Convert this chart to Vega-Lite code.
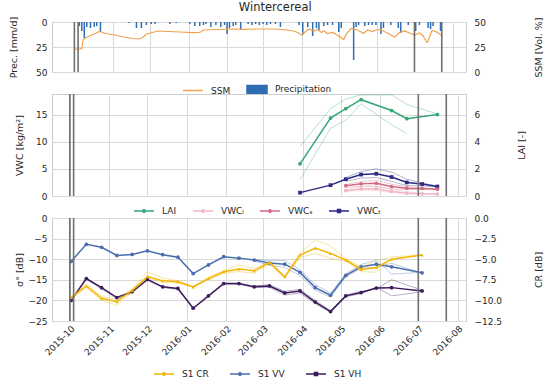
{
  "$schema": "https://vega.github.io/schema/vega-lite/v6.json",
  "padding": {"left": 7, "right": 2, "top": 2, "bottom": 2},
  "bounds": "flush",
  "title": {"text": "Wintercereal", "fontSize": 11.5, "fontWeight": "normal", "font": "DejaVu Sans", "color": "#262626", "anchor": "middle", "frame": "bounds", "offset": 2},
  "config": {
    "font": "DejaVu Sans",
    "view": {"stroke": "#cccccc", "strokeWidth": 1},
    "axis": {"labelFont": "DejaVu Sans", "titleFont": "DejaVu Sans", "labelFontSize": 9, "titleFontSize": 9.5, "labelColor": "#262626", "titleColor": "#262626", "titleFontWeight": "normal", "gridColor": "#d9d9d9", "gridWidth": 1, "domain": false, "ticks": false, "tickSize": 0, "labelPadding": 5, "titlePadding": 6},
    "legend": {"labelFont": "DejaVu Sans", "labelFontSize": 9, "labelColor": "#262626", "orient": "bottom", "direction": "horizontal", "symbolSize": 144, "symbolStrokeWidth": 1.5, "columnPadding": 12, "labelOffset": 11, "offset": 4, "padding": 0, "layout": {"bottom": {"anchor": "middle"}}}
  },
  "spacing": 22,
  "resolve": {"scale": {"x": "independent", "y": "independent", "color": "independent", "stroke": "independent", "fill": "independent"}, "legend": {"color": "independent", "stroke": "independent", "fill": "independent"}},
  "datasets": {
    "events": [{"date": "2015-10-01"}, {"date": "2015-10-04"}, {"date": "2016-07-01"}, {"date": "2016-07-23"}],
    "prec": [
      {"date": "2015-10-05", "prec": 4}, {"date": "2015-10-07", "prec": 9}, {"date": "2015-10-09", "prec": 16}, {"date": "2015-10-11", "prec": 5},
      {"date": "2015-10-14", "prec": 6}, {"date": "2015-10-17", "prec": 5}, {"date": "2015-10-19", "prec": 4}, {"date": "2015-10-22", "prec": 10},
      {"date": "2015-11-14", "prec": 1}, {"date": "2015-11-20", "prec": 6}, {"date": "2015-11-24", "prec": 6}, {"date": "2015-11-28", "prec": 3},
      {"date": "2015-12-02", "prec": 2}, {"date": "2015-12-05", "prec": 2}, {"date": "2015-12-17", "prec": 2}, {"date": "2015-12-22", "prec": 1},
      {"date": "2016-01-02", "prec": 2}, {"date": "2016-01-06", "prec": 4}, {"date": "2016-01-10", "prec": 4}, {"date": "2016-01-13", "prec": 3},
      {"date": "2016-01-15", "prec": 2}, {"date": "2016-01-19", "prec": 5}, {"date": "2016-01-23", "prec": 3}, {"date": "2016-01-27", "prec": 5},
      {"date": "2016-01-30", "prec": 3}, {"date": "2016-02-01", "prec": 12}, {"date": "2016-02-03", "prec": 6}, {"date": "2016-02-06", "prec": 4},
      {"date": "2016-02-08", "prec": 3}, {"date": "2016-02-12", "prec": 8}, {"date": "2016-02-18", "prec": 2}, {"date": "2016-02-21", "prec": 3},
      {"date": "2016-02-24", "prec": 2}, {"date": "2016-02-27", "prec": 3}, {"date": "2016-03-01", "prec": 2}, {"date": "2016-03-04", "prec": 3},
      {"date": "2016-03-07", "prec": 2}, {"date": "2016-03-11", "prec": 2}, {"date": "2016-03-15", "prec": 5}, {"date": "2016-03-30", "prec": 3},
      {"date": "2016-04-02", "prec": 13}, {"date": "2016-04-06", "prec": 5}, {"date": "2016-04-10", "prec": 14}, {"date": "2016-04-13", "prec": 6},
      {"date": "2016-04-15", "prec": 8}, {"date": "2016-04-19", "prec": 4}, {"date": "2016-04-22", "prec": 3}, {"date": "2016-04-26", "prec": 3},
      {"date": "2016-05-01", "prec": 10}, {"date": "2016-05-03", "prec": 6}, {"date": "2016-05-13", "prec": 38}, {"date": "2016-05-15", "prec": 5},
      {"date": "2016-05-17", "prec": 3}, {"date": "2016-05-22", "prec": 4}, {"date": "2016-05-25", "prec": 3}, {"date": "2016-05-28", "prec": 3},
      {"date": "2016-05-31", "prec": 3}, {"date": "2016-06-04", "prec": 12}, {"date": "2016-06-06", "prec": 6}, {"date": "2016-06-12", "prec": 3},
      {"date": "2016-06-18", "prec": 6}, {"date": "2016-06-20", "prec": 11}, {"date": "2016-06-26", "prec": 3}, {"date": "2016-07-02", "prec": 9},
      {"date": "2016-07-05", "prec": 3}, {"date": "2016-07-12", "prec": 6}, {"date": "2016-07-14", "prec": 7}, {"date": "2016-07-16", "prec": 4},
      {"date": "2016-07-22", "prec": 9}
    ],
    "ssm": [
      {"date": "2015-10-01", "ssm": 23.3}, {"date": "2015-10-04", "ssm": 22.5}, {"date": "2015-10-07", "ssm": 23.5}, {"date": "2015-10-08", "ssm": 32},
      {"date": "2015-10-10", "ssm": 34}, {"date": "2015-10-14", "ssm": 36.5}, {"date": "2015-10-18", "ssm": 38.5}, {"date": "2015-10-21", "ssm": 40.5},
      {"date": "2015-10-25", "ssm": 39}, {"date": "2015-11-02", "ssm": 37}, {"date": "2015-11-10", "ssm": 35}, {"date": "2015-11-17", "ssm": 33.5},
      {"date": "2015-11-22", "ssm": 33}, {"date": "2015-11-25", "ssm": 34.5}, {"date": "2015-11-28", "ssm": 38}, {"date": "2015-12-03", "ssm": 39.5},
      {"date": "2015-12-07", "ssm": 41}, {"date": "2015-12-15", "ssm": 40.5}, {"date": "2015-12-25", "ssm": 40}, {"date": "2016-01-04", "ssm": 39.3},
      {"date": "2016-01-10", "ssm": 39.5}, {"date": "2016-01-13", "ssm": 42}, {"date": "2016-01-25", "ssm": 42.5}, {"date": "2016-02-05", "ssm": 43},
      {"date": "2016-02-15", "ssm": 42.7}, {"date": "2016-02-25", "ssm": 43}, {"date": "2016-03-08", "ssm": 43}, {"date": "2016-03-16", "ssm": 42.5},
      {"date": "2016-03-24", "ssm": 41.5}, {"date": "2016-03-29", "ssm": 39.5}, {"date": "2016-04-01", "ssm": 37}, {"date": "2016-04-04", "ssm": 40},
      {"date": "2016-04-07", "ssm": 43}, {"date": "2016-04-11", "ssm": 41}, {"date": "2016-04-14", "ssm": 42.5}, {"date": "2016-04-17", "ssm": 39.5},
      {"date": "2016-04-19", "ssm": 41}, {"date": "2016-04-22", "ssm": 38.5}, {"date": "2016-04-26", "ssm": 39.5}, {"date": "2016-05-01", "ssm": 36},
      {"date": "2016-05-05", "ssm": 32.5}, {"date": "2016-05-07", "ssm": 38}, {"date": "2016-05-11", "ssm": 43.5}, {"date": "2016-05-15", "ssm": 42.5},
      {"date": "2016-05-19", "ssm": 40}, {"date": "2016-05-21", "ssm": 38.5}, {"date": "2016-05-24", "ssm": 42}, {"date": "2016-05-28", "ssm": 40.5},
      {"date": "2016-06-01", "ssm": 42.5}, {"date": "2016-06-05", "ssm": 41.5}, {"date": "2016-06-10", "ssm": 38.5}, {"date": "2016-06-15", "ssm": 35},
      {"date": "2016-06-19", "ssm": 39.5}, {"date": "2016-06-23", "ssm": 41}, {"date": "2016-06-27", "ssm": 39}, {"date": "2016-07-01", "ssm": 37},
      {"date": "2016-07-05", "ssm": 39}, {"date": "2016-07-08", "ssm": 36}, {"date": "2016-07-11", "ssm": 29.5}, {"date": "2016-07-12", "ssm": 31},
      {"date": "2016-07-15", "ssm": 41.5}, {"date": "2016-07-19", "ssm": 40}, {"date": "2016-07-23", "ssm": 36.5}
    ],
    "lai": [
      {"date": "2016-03-30", "series": "LAI", "kind": "mean", "value": 2.37}, {"date": "2016-04-23", "series": "LAI", "kind": "mean", "value": 5.75},
      {"date": "2016-05-05", "series": "LAI", "kind": "mean", "value": 6.44}, {"date": "2016-05-17", "series": "LAI", "kind": "mean", "value": 7.1},
      {"date": "2016-06-10", "series": "LAI", "kind": "mean", "value": 6.3}, {"date": "2016-06-22", "series": "LAI", "kind": "mean", "value": 5.7},
      {"date": "2016-07-16", "series": "LAI", "kind": "mean", "value": 6.0},
      {"date": "2016-03-30", "series": "LAI", "kind": "upper", "value": 3.65}, {"date": "2016-04-23", "series": "LAI", "kind": "upper", "value": 6.45},
      {"date": "2016-05-05", "series": "LAI", "kind": "upper", "value": 7.15}, {"date": "2016-05-17", "series": "LAI", "kind": "upper", "value": 7.45},
      {"date": "2016-06-10", "series": "LAI", "kind": "upper", "value": 7.45}, {"date": "2016-06-22", "series": "LAI", "kind": "upper", "value": 6.75},
      {"date": "2016-07-16", "series": "LAI", "kind": "upper", "value": 6.05},
      {"date": "2016-03-30", "series": "LAI", "kind": "lower", "value": 1.2}, {"date": "2016-04-23", "series": "LAI", "kind": "lower", "value": 5.0},
      {"date": "2016-05-05", "series": "LAI", "kind": "lower", "value": 5.6}, {"date": "2016-05-17", "series": "LAI", "kind": "lower", "value": 6.8},
      {"date": "2016-06-10", "series": "LAI", "kind": "lower", "value": 5.25}, {"date": "2016-06-22", "series": "LAI", "kind": "lower", "value": 4.6}
    ],
    "vwc": [
      {"date": "2016-03-30", "series": "VWCₜ", "kind": "mean", "value": 0.62}, {"date": "2016-04-23", "series": "VWCₜ", "kind": "mean", "value": 2.0},
      {"date": "2016-05-05", "series": "VWCₜ", "kind": "mean", "value": 3.1}, {"date": "2016-05-17", "series": "VWCₜ", "kind": "mean", "value": 3.95},
      {"date": "2016-05-29", "series": "VWCₜ", "kind": "mean", "value": 4.1}, {"date": "2016-06-10", "series": "VWCₜ", "kind": "mean", "value": 3.5},
      {"date": "2016-06-22", "series": "VWCₜ", "kind": "mean", "value": 2.5}, {"date": "2016-07-04", "series": "VWCₜ", "kind": "mean", "value": 2.2},
      {"date": "2016-07-16", "series": "VWCₜ", "kind": "mean", "value": 1.75},
      {"date": "2016-05-05", "series": "VWCₜ", "kind": "upper", "value": 3.4}, {"date": "2016-05-17", "series": "VWCₜ", "kind": "upper", "value": 4.5},
      {"date": "2016-05-29", "series": "VWCₜ", "kind": "upper", "value": 5.0}, {"date": "2016-06-10", "series": "VWCₜ", "kind": "upper", "value": 4.4},
      {"date": "2016-06-22", "series": "VWCₜ", "kind": "upper", "value": 3.1}, {"date": "2016-07-04", "series": "VWCₜ", "kind": "upper", "value": 2.4},
      {"date": "2016-07-16", "series": "VWCₜ", "kind": "upper", "value": 1.8},
      {"date": "2016-05-05", "series": "VWCₜ", "kind": "lower", "value": 2.7}, {"date": "2016-05-17", "series": "VWCₜ", "kind": "lower", "value": 3.3},
      {"date": "2016-05-29", "series": "VWCₜ", "kind": "lower", "value": 3.4}, {"date": "2016-06-10", "series": "VWCₜ", "kind": "lower", "value": 2.7},
      {"date": "2016-06-22", "series": "VWCₜ", "kind": "lower", "value": 1.9}, {"date": "2016-07-04", "series": "VWCₜ", "kind": "lower", "value": 1.9},
      {"date": "2016-07-16", "series": "VWCₜ", "kind": "lower", "value": 1.65},
      {"date": "2016-05-05", "series": "VWCₛ", "kind": "mean", "value": 1.9}, {"date": "2016-05-17", "series": "VWCₛ", "kind": "mean", "value": 2.25},
      {"date": "2016-05-29", "series": "VWCₛ", "kind": "mean", "value": 2.35}, {"date": "2016-06-10", "series": "VWCₛ", "kind": "mean", "value": 1.75},
      {"date": "2016-06-22", "series": "VWCₛ", "kind": "mean", "value": 1.45}, {"date": "2016-07-04", "series": "VWCₛ", "kind": "mean", "value": 1.4},
      {"date": "2016-07-16", "series": "VWCₛ", "kind": "mean", "value": 1.25},
      {"date": "2016-05-05", "series": "VWCₛ", "kind": "upper", "value": 2.1}, {"date": "2016-05-17", "series": "VWCₛ", "kind": "upper", "value": 2.7},
      {"date": "2016-05-29", "series": "VWCₛ", "kind": "upper", "value": 2.9}, {"date": "2016-06-10", "series": "VWCₛ", "kind": "upper", "value": 2.2},
      {"date": "2016-06-22", "series": "VWCₛ", "kind": "upper", "value": 1.7}, {"date": "2016-07-04", "series": "VWCₛ", "kind": "upper", "value": 1.5},
      {"date": "2016-07-16", "series": "VWCₛ", "kind": "upper", "value": 1.3},
      {"date": "2016-05-05", "series": "VWCₛ", "kind": "lower", "value": 1.6}, {"date": "2016-05-17", "series": "VWCₛ", "kind": "lower", "value": 1.8},
      {"date": "2016-05-29", "series": "VWCₛ", "kind": "lower", "value": 1.8}, {"date": "2016-06-10", "series": "VWCₛ", "kind": "lower", "value": 1.3},
      {"date": "2016-06-22", "series": "VWCₛ", "kind": "lower", "value": 1.2}, {"date": "2016-07-04", "series": "VWCₛ", "kind": "lower", "value": 1.2},
      {"date": "2016-07-16", "series": "VWCₛ", "kind": "lower", "value": 1.2},
      {"date": "2016-05-05", "series": "VWCₗ", "kind": "mean", "value": 1.0}, {"date": "2016-05-17", "series": "VWCₗ", "kind": "mean", "value": 1.3},
      {"date": "2016-05-29", "series": "VWCₗ", "kind": "mean", "value": 1.35}, {"date": "2016-06-10", "series": "VWCₗ", "kind": "mean", "value": 0.85},
      {"date": "2016-06-22", "series": "VWCₗ", "kind": "mean", "value": 0.55}, {"date": "2016-07-04", "series": "VWCₗ", "kind": "mean", "value": 0.4},
      {"date": "2016-07-16", "series": "VWCₗ", "kind": "mean", "value": 0.35},
      {"date": "2016-05-05", "series": "VWCₗ", "kind": "upper", "value": 1.2}, {"date": "2016-05-17", "series": "VWCₗ", "kind": "upper", "value": 1.7},
      {"date": "2016-05-29", "series": "VWCₗ", "kind": "upper", "value": 1.8}, {"date": "2016-06-10", "series": "VWCₗ", "kind": "upper", "value": 1.2},
      {"date": "2016-06-22", "series": "VWCₗ", "kind": "upper", "value": 0.8}, {"date": "2016-07-04", "series": "VWCₗ", "kind": "upper", "value": 0.5},
      {"date": "2016-07-16", "series": "VWCₗ", "kind": "upper", "value": 0.4},
      {"date": "2016-05-05", "series": "VWCₗ", "kind": "lower", "value": 0.8}, {"date": "2016-05-17", "series": "VWCₗ", "kind": "lower", "value": 1.0},
      {"date": "2016-05-29", "series": "VWCₗ", "kind": "lower", "value": 1.0}, {"date": "2016-06-10", "series": "VWCₗ", "kind": "lower", "value": 0.6},
      {"date": "2016-06-22", "series": "VWCₗ", "kind": "lower", "value": 0.35}, {"date": "2016-07-04", "series": "VWCₗ", "kind": "lower", "value": 0.3},
      {"date": "2016-07-16", "series": "VWCₗ", "kind": "lower", "value": 0.3}
    ],
    "sigma": [
      {"date": "2015-10-02", "series": "S1 VV", "kind": "mean", "value": -10.55}, {"date": "2015-10-14", "series": "S1 VV", "kind": "mean", "value": -6.4},
      {"date": "2015-10-26", "series": "S1 VV", "kind": "mean", "value": -7.1}, {"date": "2015-11-07", "series": "S1 VV", "kind": "mean", "value": -9.1},
      {"date": "2015-11-19", "series": "S1 VV", "kind": "mean", "value": -8.85}, {"date": "2015-12-01", "series": "S1 VV", "kind": "mean", "value": -7.95},
      {"date": "2015-12-13", "series": "S1 VV", "kind": "mean", "value": -8.9}, {"date": "2015-12-25", "series": "S1 VV", "kind": "mean", "value": -9.5},
      {"date": "2016-01-06", "series": "S1 VV", "kind": "mean", "value": -13.5}, {"date": "2016-01-18", "series": "S1 VV", "kind": "mean", "value": -11.4},
      {"date": "2016-01-30", "series": "S1 VV", "kind": "mean", "value": -9.4}, {"date": "2016-02-11", "series": "S1 VV", "kind": "mean", "value": -9.74},
      {"date": "2016-02-23", "series": "S1 VV", "kind": "mean", "value": -10.2}, {"date": "2016-03-06", "series": "S1 VV", "kind": "mean", "value": -10.95},
      {"date": "2016-03-18", "series": "S1 VV", "kind": "mean", "value": -11.2}, {"date": "2016-03-30", "series": "S1 VV", "kind": "mean", "value": -13.2},
      {"date": "2016-04-11", "series": "S1 VV", "kind": "mean", "value": -16.9}, {"date": "2016-04-23", "series": "S1 VV", "kind": "mean", "value": -18.75},
      {"date": "2016-05-05", "series": "S1 VV", "kind": "mean", "value": -13.9}, {"date": "2016-05-17", "series": "S1 VV", "kind": "mean", "value": -11.85},
      {"date": "2016-05-29", "series": "S1 VV", "kind": "mean", "value": -11.2}, {"date": "2016-06-10", "series": "S1 VV", "kind": "mean", "value": -11.85},
      {"date": "2016-07-04", "series": "S1 VV", "kind": "mean", "value": -13.3},
      {"date": "2016-02-23", "series": "S1 VV", "kind": "a", "value": -10.0}, {"date": "2016-03-06", "series": "S1 VV", "kind": "a", "value": -10.4},
      {"date": "2016-03-18", "series": "S1 VV", "kind": "a", "value": -10.3}, {"date": "2016-03-30", "series": "S1 VV", "kind": "a", "value": -12.6},
      {"date": "2016-04-11", "series": "S1 VV", "kind": "a", "value": -16.2}, {"date": "2016-04-23", "series": "S1 VV", "kind": "a", "value": -18.2},
      {"date": "2016-05-05", "series": "S1 VV", "kind": "a", "value": -13.5}, {"date": "2016-05-17", "series": "S1 VV", "kind": "a", "value": -11.3},
      {"date": "2016-05-29", "series": "S1 VV", "kind": "a", "value": -10.2}, {"date": "2016-06-10", "series": "S1 VV", "kind": "a", "value": -13.6},
      {"date": "2016-07-04", "series": "S1 VV", "kind": "a", "value": -13.2},
      {"date": "2016-02-23", "series": "S1 VV", "kind": "b", "value": -10.4}, {"date": "2016-03-06", "series": "S1 VV", "kind": "b", "value": -11.5},
      {"date": "2016-03-18", "series": "S1 VV", "kind": "b", "value": -12.0}, {"date": "2016-03-30", "series": "S1 VV", "kind": "b", "value": -14.0},
      {"date": "2016-04-11", "series": "S1 VV", "kind": "b", "value": -17.5}, {"date": "2016-04-23", "series": "S1 VV", "kind": "b", "value": -19.2},
      {"date": "2016-05-05", "series": "S1 VV", "kind": "b", "value": -14.3}, {"date": "2016-05-17", "series": "S1 VV", "kind": "b", "value": -12.2},
      {"date": "2016-05-29", "series": "S1 VV", "kind": "b", "value": -12.0}, {"date": "2016-06-10", "series": "S1 VV", "kind": "b", "value": -11.0},
      {"date": "2016-07-04", "series": "S1 VV", "kind": "b", "value": -13.4},
      {"date": "2015-10-02", "series": "S1 VH", "kind": "mean", "value": -20.0}, {"date": "2015-10-14", "series": "S1 VH", "kind": "mean", "value": -14.7},
      {"date": "2015-10-26", "series": "S1 VH", "kind": "mean", "value": -16.9}, {"date": "2015-11-07", "series": "S1 VH", "kind": "mean", "value": -19.3},
      {"date": "2015-11-19", "series": "S1 VH", "kind": "mean", "value": -17.9}, {"date": "2015-12-01", "series": "S1 VH", "kind": "mean", "value": -14.9},
      {"date": "2015-12-13", "series": "S1 VH", "kind": "mean", "value": -16.7}, {"date": "2015-12-25", "series": "S1 VH", "kind": "mean", "value": -17.1},
      {"date": "2016-01-06", "series": "S1 VH", "kind": "mean", "value": -21.9}, {"date": "2016-01-18", "series": "S1 VH", "kind": "mean", "value": -18.9},
      {"date": "2016-01-30", "series": "S1 VH", "kind": "mean", "value": -15.9}, {"date": "2016-02-11", "series": "S1 VH", "kind": "mean", "value": -15.9},
      {"date": "2016-02-23", "series": "S1 VH", "kind": "mean", "value": -16.7}, {"date": "2016-03-06", "series": "S1 VH", "kind": "mean", "value": -16.5},
      {"date": "2016-03-18", "series": "S1 VH", "kind": "mean", "value": -18.2}, {"date": "2016-03-30", "series": "S1 VH", "kind": "mean", "value": -17.7},
      {"date": "2016-04-11", "series": "S1 VH", "kind": "mean", "value": -20.4}, {"date": "2016-04-23", "series": "S1 VH", "kind": "mean", "value": -22.7},
      {"date": "2016-05-05", "series": "S1 VH", "kind": "mean", "value": -18.9}, {"date": "2016-05-17", "series": "S1 VH", "kind": "mean", "value": -18.1},
      {"date": "2016-05-29", "series": "S1 VH", "kind": "mean", "value": -17.0}, {"date": "2016-06-10", "series": "S1 VH", "kind": "mean", "value": -16.9},
      {"date": "2016-07-04", "series": "S1 VH", "kind": "mean", "value": -17.7},
      {"date": "2015-10-02", "series": "S1 VH", "kind": "a", "value": -20.2}, {"date": "2015-10-14", "series": "S1 VH", "kind": "a", "value": -14.9},
      {"date": "2015-10-26", "series": "S1 VH", "kind": "a", "value": -17.2}, {"date": "2015-11-07", "series": "S1 VH", "kind": "a", "value": -19.6},
      {"date": "2015-11-19", "series": "S1 VH", "kind": "a", "value": -18.1}, {"date": "2015-12-01", "series": "S1 VH", "kind": "a", "value": -15.1},
      {"date": "2015-12-13", "series": "S1 VH", "kind": "a", "value": -16.9}, {"date": "2015-12-25", "series": "S1 VH", "kind": "a", "value": -17.3},
      {"date": "2016-01-06", "series": "S1 VH", "kind": "a", "value": -22.0}, {"date": "2016-01-18", "series": "S1 VH", "kind": "a", "value": -19.0},
      {"date": "2016-01-30", "series": "S1 VH", "kind": "a", "value": -16.1}, {"date": "2016-02-11", "series": "S1 VH", "kind": "a", "value": -16.1},
      {"date": "2016-02-23", "series": "S1 VH", "kind": "a", "value": -16.9}, {"date": "2016-03-06", "series": "S1 VH", "kind": "a", "value": -16.8},
      {"date": "2016-03-18", "series": "S1 VH", "kind": "a", "value": -18.7}, {"date": "2016-03-30", "series": "S1 VH", "kind": "a", "value": -18.2},
      {"date": "2016-04-11", "series": "S1 VH", "kind": "a", "value": -20.8}, {"date": "2016-04-23", "series": "S1 VH", "kind": "a", "value": -22.9},
      {"date": "2016-05-05", "series": "S1 VH", "kind": "a", "value": -19.1}, {"date": "2016-05-17", "series": "S1 VH", "kind": "a", "value": -18.4},
      {"date": "2016-05-29", "series": "S1 VH", "kind": "a", "value": -16.8}, {"date": "2016-06-10", "series": "S1 VH", "kind": "a", "value": -18.9},
      {"date": "2016-07-04", "series": "S1 VH", "kind": "a", "value": -17.9},
      {"date": "2016-02-23", "series": "S1 VH", "kind": "b", "value": -16.5}, {"date": "2016-03-06", "series": "S1 VH", "kind": "b", "value": -16.2},
      {"date": "2016-03-18", "series": "S1 VH", "kind": "b", "value": -17.8}, {"date": "2016-03-30", "series": "S1 VH", "kind": "b", "value": -17.3},
      {"date": "2016-04-11", "series": "S1 VH", "kind": "b", "value": -20.0}, {"date": "2016-04-23", "series": "S1 VH", "kind": "b", "value": -22.5},
      {"date": "2016-05-05", "series": "S1 VH", "kind": "b", "value": -18.7}, {"date": "2016-05-17", "series": "S1 VH", "kind": "b", "value": -17.8},
      {"date": "2016-05-29", "series": "S1 VH", "kind": "b", "value": -17.2}, {"date": "2016-06-10", "series": "S1 VH", "kind": "b", "value": -15.0},
      {"date": "2016-07-04", "series": "S1 VH", "kind": "b", "value": -17.5}
    ],
    "cr": [
      {"date": "2015-10-02", "series": "S1 CR", "kind": "mean", "value": -9.66}, {"date": "2015-10-14", "series": "S1 CR", "kind": "mean", "value": -8.24},
      {"date": "2015-10-26", "series": "S1 CR", "kind": "mean", "value": -9.74}, {"date": "2015-11-07", "series": "S1 CR", "kind": "mean", "value": -10.15},
      {"date": "2015-11-19", "series": "S1 CR", "kind": "mean", "value": -8.77}, {"date": "2015-12-01", "series": "S1 CR", "kind": "mean", "value": -7.1},
      {"date": "2015-12-13", "series": "S1 CR", "kind": "mean", "value": -7.63}, {"date": "2015-12-25", "series": "S1 CR", "kind": "mean", "value": -7.75},
      {"date": "2016-01-06", "series": "S1 CR", "kind": "mean", "value": -8.36}, {"date": "2016-01-18", "series": "S1 CR", "kind": "mean", "value": -7.35},
      {"date": "2016-01-30", "series": "S1 CR", "kind": "mean", "value": -6.53}, {"date": "2016-02-11", "series": "S1 CR", "kind": "mean", "value": -6.2},
      {"date": "2016-02-23", "series": "S1 CR", "kind": "mean", "value": -6.4}, {"date": "2016-03-06", "series": "S1 CR", "kind": "mean", "value": -5.4},
      {"date": "2016-03-18", "series": "S1 CR", "kind": "mean", "value": -7.14}, {"date": "2016-03-30", "series": "S1 CR", "kind": "mean", "value": -4.5},
      {"date": "2016-04-11", "series": "S1 CR", "kind": "mean", "value": -3.65}, {"date": "2016-04-23", "series": "S1 CR", "kind": "mean", "value": -4.3},
      {"date": "2016-05-05", "series": "S1 CR", "kind": "mean", "value": -5.1}, {"date": "2016-05-17", "series": "S1 CR", "kind": "mean", "value": -6.25},
      {"date": "2016-05-29", "series": "S1 CR", "kind": "mean", "value": -6.0}, {"date": "2016-06-10", "series": "S1 CR", "kind": "mean", "value": -5.0},
      {"date": "2016-07-04", "series": "S1 CR", "kind": "mean", "value": -4.5},
      {"date": "2015-10-02", "series": "S1 CR", "kind": "a", "value": -9.5}, {"date": "2015-10-14", "series": "S1 CR", "kind": "a", "value": -8.0},
      {"date": "2015-10-26", "series": "S1 CR", "kind": "a", "value": -9.5}, {"date": "2015-11-07", "series": "S1 CR", "kind": "a", "value": -9.9},
      {"date": "2015-11-19", "series": "S1 CR", "kind": "a", "value": -8.6}, {"date": "2015-12-01", "series": "S1 CR", "kind": "a", "value": -6.5},
      {"date": "2015-12-13", "series": "S1 CR", "kind": "a", "value": -7.3}, {"date": "2015-12-25", "series": "S1 CR", "kind": "a", "value": -7.6},
      {"date": "2016-01-06", "series": "S1 CR", "kind": "a", "value": -8.3}, {"date": "2016-01-18", "series": "S1 CR", "kind": "a", "value": -7.2},
      {"date": "2016-01-30", "series": "S1 CR", "kind": "a", "value": -6.4}, {"date": "2016-02-11", "series": "S1 CR", "kind": "a", "value": -5.7},
      {"date": "2016-02-23", "series": "S1 CR", "kind": "a", "value": -6.1}, {"date": "2016-03-06", "series": "S1 CR", "kind": "a", "value": -5.3},
      {"date": "2016-03-18", "series": "S1 CR", "kind": "a", "value": -7.0}, {"date": "2016-03-30", "series": "S1 CR", "kind": "a", "value": -4.2},
      {"date": "2016-04-11", "series": "S1 CR", "kind": "a", "value": -2.7}, {"date": "2016-04-23", "series": "S1 CR", "kind": "a", "value": -3.4},
      {"date": "2016-05-05", "series": "S1 CR", "kind": "a", "value": -4.9}, {"date": "2016-05-17", "series": "S1 CR", "kind": "a", "value": -6.0},
      {"date": "2016-05-29", "series": "S1 CR", "kind": "a", "value": -5.2}, {"date": "2016-06-10", "series": "S1 CR", "kind": "a", "value": -4.7},
      {"date": "2016-07-04", "series": "S1 CR", "kind": "a", "value": -4.5},
      {"date": "2015-10-02", "series": "S1 CR", "kind": "b", "value": -9.8}, {"date": "2015-10-14", "series": "S1 CR", "kind": "b", "value": -8.5},
      {"date": "2015-10-26", "series": "S1 CR", "kind": "b", "value": -10.0}, {"date": "2015-11-07", "series": "S1 CR", "kind": "b", "value": -10.6},
      {"date": "2015-11-19", "series": "S1 CR", "kind": "b", "value": -9.0}, {"date": "2015-12-01", "series": "S1 CR", "kind": "b", "value": -7.3},
      {"date": "2015-12-13", "series": "S1 CR", "kind": "b", "value": -7.8}, {"date": "2015-12-25", "series": "S1 CR", "kind": "b", "value": -7.9},
      {"date": "2016-01-06", "series": "S1 CR", "kind": "b", "value": -8.4}, {"date": "2016-01-18", "series": "S1 CR", "kind": "b", "value": -7.5},
      {"date": "2016-01-30", "series": "S1 CR", "kind": "b", "value": -6.7}, {"date": "2016-02-11", "series": "S1 CR", "kind": "b", "value": -6.5},
      {"date": "2016-02-23", "series": "S1 CR", "kind": "b", "value": -6.7}, {"date": "2016-03-06", "series": "S1 CR", "kind": "b", "value": -5.6},
      {"date": "2016-03-18", "series": "S1 CR", "kind": "b", "value": -7.3}, {"date": "2016-03-30", "series": "S1 CR", "kind": "b", "value": -4.8},
      {"date": "2016-04-11", "series": "S1 CR", "kind": "b", "value": -4.3}, {"date": "2016-04-23", "series": "S1 CR", "kind": "b", "value": -4.9},
      {"date": "2016-05-05", "series": "S1 CR", "kind": "b", "value": -5.2}, {"date": "2016-05-17", "series": "S1 CR", "kind": "b", "value": -6.5},
      {"date": "2016-05-29", "series": "S1 CR", "kind": "b", "value": -6.6}, {"date": "2016-06-10", "series": "S1 CR", "kind": "b", "value": -5.0},
      {"date": "2016-07-04", "series": "S1 CR", "kind": "b", "value": -4.5}
    ]
  },
  "vconcat": [
    {
      "width": 414, "height": 50,
      "encoding": {"x": {"field": "date", "type": "temporal", "scale": {"domain": [{"year": 2015, "month": 9, "date": 17}, {"year": 2016, "month": 8, "date": 7, "hours": 12}]}, "axis": {"title": null, "labels": false, "grid": true, "minExtent": 0, "maxExtent": 0, "tickCount": {"interval": "month", "step": 1}}}},
      "resolve": {"scale": {"y": "independent"}},
      "layer": [
        {"data": {"name": "prec"}, "mark": {"type": "bar", "size": 1.5},
         "encoding": {"y": {"field": "prec", "type": "quantitative", "scale": {"domain": [0, 50], "reverse": true, "nice": false}, "axis": {"title": "Prec. [mm/d]", "orient": "left", "values": [0, 25, 50], "grid": true, "minExtent": 30, "maxExtent": 30, "titlePadding": 4}},
                      "color": {"datum": "Precipitation", "type": "nominal", "scale": {"domain": ["SSM", "Precipitation"], "range": ["#f4a04e", "#2f6db3"]},
                                "legend": {"title": null, "offset": 10, "symbolType": "M-1.67,0H1.67", "encode": {"symbols": {"update": {"shape": {"signal": "datum.value === 'Precipitation' ? 'M-1.67,-0.67H1.67V0.67H-1.67Z' : 'M-1.67,0H1.67'"}, "fill": {"signal": "datum.value === 'Precipitation' ? '#2f6db3' : 'transparent'"}, "stroke": {"signal": "datum.value === 'Precipitation' ? 'transparent' : '#f4a04e'"}, "strokeWidth": {"value": 1.5}, "opacity": {"value": 1}}}}}}}},
        {"data": {"name": "ssm"}, "mark": {"type": "line", "strokeWidth": 1.2},
         "encoding": {"y": {"field": "ssm", "type": "quantitative", "scale": {"domain": [0, 50], "nice": false}, "axis": {"title": "SSM [Vol. %]", "orient": "right", "values": [0, 25, 50], "grid": false, "titleAngle": 270, "labelPadding": 8, "minExtent": 69, "maxExtent": 69, "titlePadding": 8}},
                      "color": {"datum": "SSM", "type": "nominal"}}},
        {"data": {"name": "events"}, "mark": {"type": "rule", "color": "#707070", "strokeWidth": 1.6}, "encoding": {}}
      ]
    },
    {
      "width": 414, "height": 102,
      "encoding": {"x": {"field": "date", "type": "temporal", "scale": {"domain": [{"year": 2015, "month": 9, "date": 17}, {"year": 2016, "month": 8, "date": 7, "hours": 12}]}, "axis": {"title": null, "labels": false, "grid": true, "minExtent": 0, "maxExtent": 0, "tickCount": {"interval": "month", "step": 1}}}},
      "resolve": {"scale": {"y": "independent"}},
      "layer": [
        {"data": {"name": "vwc"},
         "encoding": {"y": {"field": "value", "type": "quantitative", "scale": {"domain": [0, 18.8], "nice": false}, "axis": {"title": "VWC [kg/m²]", "orient": "left", "values": [0, 5, 10, 15], "grid": true, "minExtent": 24, "maxExtent": 24, "titlePadding": 4}}},
         "layer": [
           {"transform": [{"filter": "datum.kind === 'mean'"}], "mark": {"type": "line", "strokeWidth": 1.5},
            "encoding": {"stroke": {"field": "series", "type": "nominal", "scale": {"domain": ["LAI", "VWCₗ", "VWCₛ", "VWCₜ"], "range": ["#33a875", "#f2b6c6", "#d36b84", "#2e2a85"]},
                                    "legend": {"title": null, "offset": 6, "symbolType": "M-1.67,0H1.67", "encode": {"symbols": {"update": {"shape": {"signal": "datum.value === 'VWCₜ' ? 'M-1.67,0H1.67M-0.25,-0.25H0.25V0.25H-0.25Z' : 'M-1.67,0H1.67M-0.2,0A0.2,0.2 0 1,0 0.2,0A0.2,0.2 0 1,0 -0.2,0'"}, "fill": {"value": "transparent"}, "strokeWidth": {"value": 1.5}, "opacity": {"value": 1}, "strokeOpacity": {"value": 1}}}}}}}},
           {"transform": [{"filter": "datum.kind !== 'mean'"}], "mark": {"type": "line", "strokeWidth": 0.9, "strokeOpacity": 0.4},
            "encoding": {"stroke": {"field": "series", "type": "nominal"}, "detail": {"field": "kind"}}},
           {"transform": [{"filter": "datum.kind === 'mean'"}], "mark": {"type": "point", "filled": true, "opacity": 1, "size": 14},
            "encoding": {"fill": {"field": "series", "type": "nominal", "scale": {"domain": ["LAI", "VWCₗ", "VWCₛ", "VWCₜ"], "range": ["#33a875", "#f2b6c6", "#d36b84", "#2e2a85"]}, "legend": null},
                         "shape": {"field": "series", "type": "nominal", "scale": {"domain": ["LAI", "VWCₗ", "VWCₛ", "VWCₜ"], "range": ["circle", "circle", "circle", "square"]}, "legend": null}}}
         ]},
        {"data": {"name": "lai"},
         "encoding": {"y": {"field": "value", "type": "quantitative", "scale": {"domain": [0, 7.52], "nice": false}, "axis": {"title": "LAI [-]", "orient": "right", "values": [0, 2, 4, 6], "grid": false, "titleAngle": 270, "labelPadding": 8, "minExtent": 52, "maxExtent": 52, "titlePadding": 8}}},
         "layer": [
           {"transform": [{"filter": "datum.kind === 'mean'"}], "mark": {"type": "line", "strokeWidth": 1.5},
            "encoding": {"stroke": {"field": "series", "type": "nominal"}}},
           {"transform": [{"filter": "datum.kind !== 'mean'"}], "mark": {"type": "line", "strokeWidth": 0.9, "strokeOpacity": 0.4},
            "encoding": {"stroke": {"field": "series", "type": "nominal"}, "detail": {"field": "kind"}}},
           {"transform": [{"filter": "datum.kind === 'mean'"}], "mark": {"type": "point", "filled": true, "opacity": 1, "size": 14, "shape": "circle"},
            "encoding": {"fill": {"field": "series", "type": "nominal", "legend": null}}}
         ]},
        {"data": {"name": "events"}, "mark": {"type": "rule", "color": "#707070", "strokeWidth": 1.6}, "encoding": {}}
      ]
    },
    {
      "width": 414, "height": 103,
      "encoding": {"x": {"field": "date", "type": "temporal", "scale": {"domain": [{"year": 2015, "month": 9, "date": 17}, {"year": 2016, "month": 8, "date": 7, "hours": 12}]}, "axis": {"title": null, "format": "%Y-%m", "labelAngle": -45, "grid": true, "tickCount": {"interval": "month", "step": 1}, "labelPadding": 3}}},
      "resolve": {"scale": {"y": "independent"}},
      "layer": [
        {"data": {"name": "sigma"},
         "encoding": {"y": {"field": "value", "type": "quantitative", "scale": {"domain": [-25, 0], "nice": false}, "axis": {"title": "σ° [dB]", "orient": "left", "values": [0, -5, -10, -15, -20, -25], "grid": true, "minExtent": 24, "maxExtent": 24, "titlePadding": 4}}},
         "layer": [
           {"transform": [{"filter": "datum.kind === 'mean'"}], "mark": {"type": "line", "strokeWidth": 1.5},
            "encoding": {"stroke": {"field": "series", "type": "nominal", "scale": {"domain": ["S1 CR", "S1 VV", "S1 VH"], "range": ["#f2b705", "#4a6db0", "#3b1b5c"]},
                                    "legend": {"title": null, "offset": 10, "columnPadding": 17, "symbolType": "M-1.67,0H1.67", "encode": {"symbols": {"update": {"shape": {"signal": "datum.value === 'S1 VH' ? 'M-1.67,0H1.67M-0.25,-0.25H0.25V0.25H-0.25Z' : 'M-1.67,0H1.67M-0.2,0A0.2,0.2 0 1,0 0.2,0A0.2,0.2 0 1,0 -0.2,0'"}, "fill": {"value": "transparent"}, "strokeWidth": {"value": 1.5}, "opacity": {"value": 1}, "strokeOpacity": {"value": 1}}}}}}}},
           {"transform": [{"filter": "datum.kind !== 'mean'"}], "mark": {"type": "line", "strokeWidth": 0.9, "strokeOpacity": 0.4},
            "encoding": {"stroke": {"field": "series", "type": "nominal"}, "detail": {"field": "kind"}}},
           {"transform": [{"filter": "datum.kind === 'mean'"}], "mark": {"type": "point", "filled": true, "opacity": 1, "size": 14},
            "encoding": {"fill": {"field": "series", "type": "nominal", "scale": {"domain": ["S1 CR", "S1 VV", "S1 VH"], "range": ["#f2b705", "#4a6db0", "#3b1b5c"]}, "legend": null},
                         "shape": {"field": "series", "type": "nominal", "scale": {"domain": ["S1 CR", "S1 VV", "S1 VH"], "range": ["triangle-up", "circle", "square"]}, "legend": null}}}
         ]},
        {"data": {"name": "cr"},
         "encoding": {"y": {"field": "value", "type": "quantitative", "scale": {"domain": [-12.5, 0], "nice": false}, "axis": {"title": "CR [dB]", "orient": "right", "values": [0, -2.5, -5, -7.5, -10, -12.5], "format": ".1f", "grid": false, "titleAngle": 270, "labelPadding": 8, "minExtent": 69, "maxExtent": 69, "titlePadding": 8}}},
         "layer": [
           {"transform": [{"filter": "datum.kind !== 'mean'"}], "mark": {"type": "line", "strokeWidth": 0.9, "strokeOpacity": 0.4},
            "encoding": {"stroke": {"field": "series", "type": "nominal"}, "detail": {"field": "kind"}}},
           {"transform": [{"filter": "datum.kind === 'mean'"}], "mark": {"type": "line", "strokeWidth": 1.5},
            "encoding": {"stroke": {"field": "series", "type": "nominal"}}},
           {"transform": [{"filter": "datum.kind === 'mean'"}], "mark": {"type": "point", "filled": true, "opacity": 1, "size": 12, "shape": "triangle-up"},
            "encoding": {"fill": {"field": "series", "type": "nominal", "legend": null}}}
         ]},
        {"data": {"name": "events"}, "mark": {"type": "rule", "color": "#707070", "strokeWidth": 1.6}, "encoding": {}}
      ]
    }
  ]
}
